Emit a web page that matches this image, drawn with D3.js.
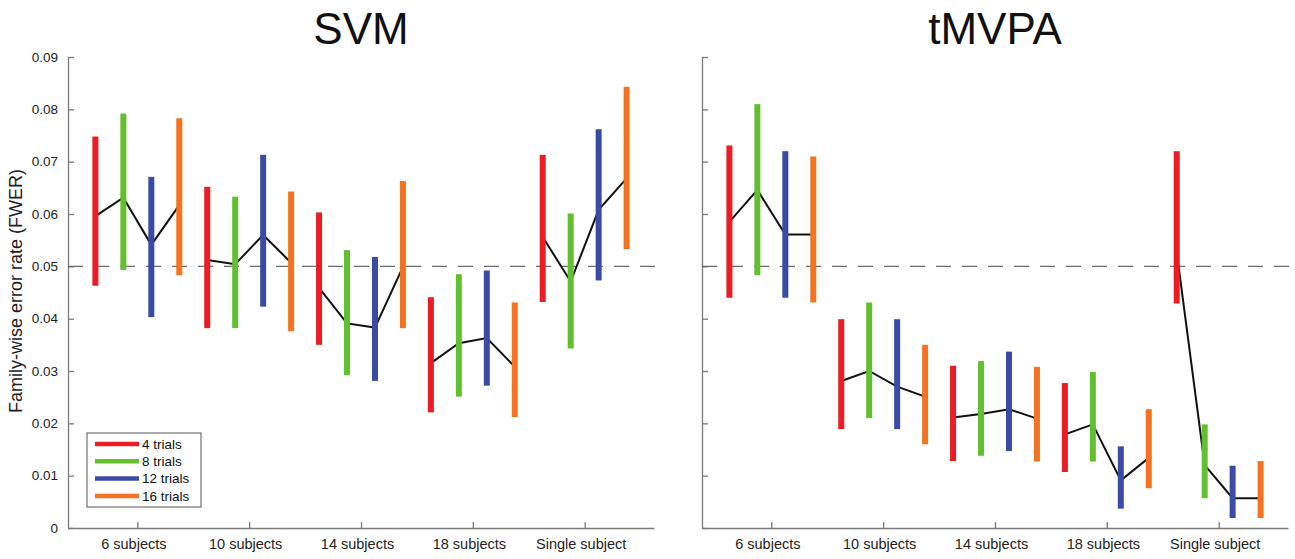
<!DOCTYPE html>
<html>
<head>
<meta charset="utf-8">
<script src="https://cdn.jsdelivr.net/npm/d3@7"></script>
<style>
  body { margin: 0; background: #fff; }
  svg { display: block; font-family: "Liberation Sans", Arial, sans-serif; }
  .axis path, .axis line { stroke: #7a7a7a; stroke-width: 1.3; }
  .axis text { fill: #222; }
</style>
</head>
<body>
<svg id="chart" width="1295" height="559"></svg>
<script>

var groups = ["6 subjects", "10 subjects", "14 subjects", "18 subjects", "Single subject"];
var trials = ["4 trials", "8 trials", "12 trials", "16 trials"];
var yTicks = [0, 0.01, 0.02, 0.03, 0.04, 0.05, 0.06, 0.07, 0.08, 0.09];
var chance = 0.05;

// one row per group, one column per trial count
var svmMean = [[0.0596, 0.0631, 0.0541, 0.0617], [0.0512, 0.0504, 0.0560, 0.0507], [0.0459, 0.0391, 0.0383, 0.0499], [0.0315, 0.0353, 0.0363, 0.0308], [0.0556, 0.0471, 0.0608, 0.0668]];
var svmLow  = [[0.0463, 0.0493, 0.0403, 0.0483], [0.0382, 0.0382, 0.0423, 0.0376], [0.0350, 0.0292, 0.0281, 0.0382], [0.0221, 0.0251, 0.0272, 0.0212], [0.0432, 0.0343, 0.0473, 0.0533]];
var svmHigh = [[0.0748, 0.0792, 0.0671, 0.0783], [0.0652, 0.0633, 0.0713, 0.0643], [0.0603, 0.0531, 0.0518, 0.0663], [0.0441, 0.0485, 0.0492, 0.0431], [0.0713, 0.0601, 0.0762, 0.0843]];

var tmvpaMean = [[0.0585, 0.0646, 0.0561, 0.0561], [0.0281, 0.0300, 0.0270, 0.0251], [0.0211, 0.0218, 0.0227, 0.0209], [0.0179, 0.0198, 0.0091, 0.0134], [0.0527, 0.0120, 0.0057, 0.0057]];
var tmvpaLow  = [[0.0440, 0.0483, 0.0440, 0.0431], [0.0189, 0.0210, 0.0189, 0.0160], [0.0128, 0.0138, 0.0147, 0.0127], [0.0107, 0.0127, 0.0037, 0.0076], [0.0429, 0.0057, 0.0019, 0.0019]];
var tmvpaHigh = [[0.0731, 0.0810, 0.0720, 0.0710], [0.0399, 0.0431, 0.0399, 0.0350], [0.0310, 0.0319, 0.0337, 0.0308], [0.0277, 0.0298, 0.0156, 0.0227], [0.0720, 0.0198, 0.0119, 0.0128]];

var colors = ["#ec1c24", "#62c02f", "#3c4aa6", "#f47320"];
var offsets = [-0.375, -0.125, 0.125, 0.375];

var svg = d3.select("#chart");
var y = d3.scaleLinear().domain([0, 0.09]).range([528, 57]);

function drawPanel(x0, title, mean, low, high, showY) {
  var x = d3.scaleLinear().domain([0.38, 5.62]).range([x0, x0 + 586]);
  var g = svg.append("g");

  g.append("text")
    .attr("x", x(3)).attr("y", 43.5)
    .attr("text-anchor", "middle")
    .style("font-size", "44px").style("fill", "#111")
    .text(title);

  var yAxis = d3.axisLeft(y).tickValues(yTicks).tickSizeInner(-6).tickSizeOuter(0).tickPadding(10)
    .tickFormat(function(d) { return d === 0 ? "0" : d.toFixed(2); });
  if (!showY) yAxis.tickFormat("");
  g.append("g").attr("class", "axis")
    .attr("transform", "translate(" + x0 + ",0)")
    .call(yAxis)
    .selectAll("text").style("font-size", "13.5px");

  var xAxis = d3.axisBottom(x).tickValues([1, 2, 3, 4, 5]).tickSizeInner(-6).tickSizeOuter(0).tickPadding(11)
    .tickFormat(function(d) { return groups[d - 1]; });
  g.append("g").attr("class", "axis")
    .attr("transform", "translate(0,528)")
    .call(xAxis)
    .selectAll("text").style("font-size", "14.5px").attr("dx", "-4");

  g.append("line")
    .attr("x1", x0).attr("x2", x0 + 590)
    .attr("y1", y(chance)).attr("y2", y(chance))
    .attr("stroke", "#6a6a6a").attr("stroke-width", 1.3)
    .attr("stroke-dasharray", "15,11");

  var line = d3.line()
    .x(function(d) { return x(d.g + 1 + offsets[d.t]); })
    .y(function(d) { return y(d.v); });

  mean.forEach(function(row, gi) {
    var pts = row.map(function(v, ti) { return {g: gi, t: ti, v: v}; });
    g.append("path").datum(pts)
      .attr("d", line)
      .attr("fill", "none").attr("stroke", "#111").attr("stroke-width", 2);
  });

  mean.forEach(function(row, gi) {
    row.forEach(function(v, ti) {
      var cx = x(gi + 1 + offsets[ti]);
      g.append("rect")
        .attr("x", cx - 3).attr("width", 6)
        .attr("y", y(high[gi][ti]))
        .attr("height", y(low[gi][ti]) - y(high[gi][ti]))
        .attr("fill", colors[ti]);
    });
  });
}

drawPanel(68, "SVM", svmMean, svmLow, svmHigh, true);
drawPanel(702, "tMVPA", tmvpaMean, tmvpaLow, tmvpaHigh, false);

svg.append("text")
  .attr("transform", "translate(22,291) rotate(-90)")
  .attr("text-anchor", "middle")
  .style("font-size", "18px").style("fill", "#222")
  .text("Family-wise error rate (FWER)");

// legend
var legend = svg.append("g").attr("transform", "translate(87,433)");
legend.append("rect")
  .attr("width", 114).attr("height", 74)
  .attr("fill", "#fff").attr("stroke", "#555").attr("stroke-width", 1);
trials.forEach(function(t, i) {
  var ly = 11 + i * 17.3;
  legend.append("line")
    .attr("x1", 8).attr("x2", 52).attr("y1", ly).attr("y2", ly)
    .attr("stroke", colors[i]).attr("stroke-width", 4.5);
  legend.append("text")
    .attr("x", 55).attr("y", ly).attr("dy", "0.35em")
    .style("font-size", "13.5px").style("fill", "#111")
    .text(t);
});

</script>
</body>
</html>
